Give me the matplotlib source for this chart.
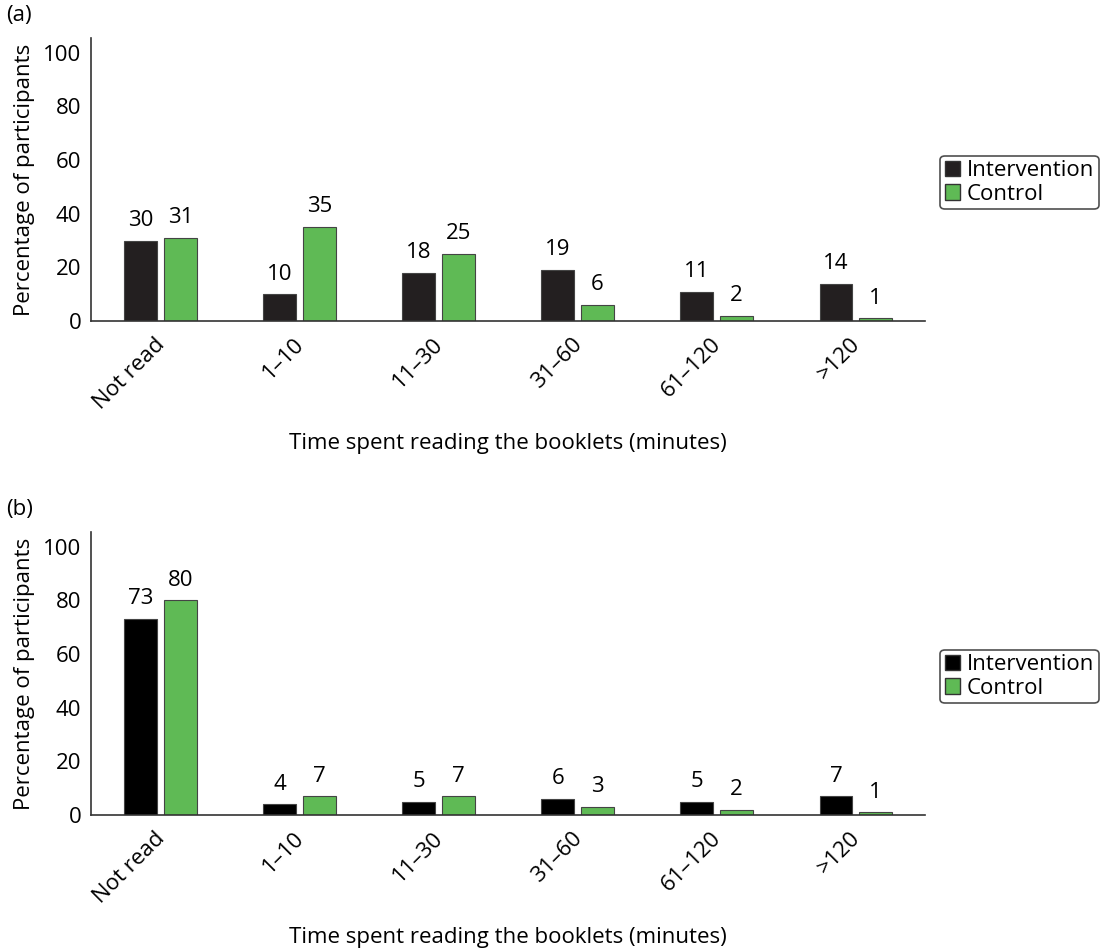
import numpy as np
from matplotlib import pyplot as plt
from matplotlib.patches import Patch
from matplotlib.transforms import ScaledTranslation

plt.rcParams['font.family'] = ['Open Sans', 'DejaVu Sans']

categories = ['Not read', '1\u201310', '11\u201330', '31\u201360', '61\u2013120', '>120']
a_intervention = [30, 10, 18, 19, 11, 14]
a_control = [31, 35, 25, 6, 2, 1]
b_intervention = [73, 4, 5, 6, 5, 7]
b_control = [80, 7, 7, 3, 2, 1]

green = '#5fba55'
fs = 16

fig = plt.figure(figsize=(11.02, 9.5), dpi=100)


def panel(rect, interv, ctrl, dark, tag, leg_y):
    ax = fig.add_axes(rect)
    x = np.arange(len(categories))
    w = 0.237
    b1 = ax.bar(x - 0.142, interv, w, color=dark, edgecolor='#444444', linewidth=0.8)
    b2 = ax.bar(x + 0.142, ctrl, w, color=green, edgecolor='#444444', linewidth=0.8)
    for bars, vals in ((b1, interv), (b2, ctrl)):
        for r, v in zip(bars, vals):
            ax.annotate(str(v), (r.get_x() + r.get_width() / 2, r.get_height()),
                        xytext=(0, 7), textcoords='offset points',
                        ha='center', va='bottom', fontsize=fs)
    ax.set_xlim(-0.5, 5.5)
    ax.set_ylim(0, 105.5)
    ax.set_yticks([0, 20, 40, 60, 80, 100])
    ax.set_xticks(x)
    ax.set_xticklabels(categories, rotation=45, ha='right', rotation_mode='anchor')
    ax.tick_params(length=0, labelsize=fs, pad=7)
    ax.tick_params(axis='x', pad=9)
    shift = ScaledTranslation(-6 / 100, 0, fig.dpi_scale_trans)
    for lab in ax.get_xticklabels():
        lab.set_transform(lab.get_transform() + shift)
    for s in ('top', 'right'):
        ax.spines[s].set_visible(False)
    for s in ('left', 'bottom'):
        ax.spines[s].set_color('#333333')
        ax.spines[s].set_linewidth(1.2)
    ax.set_ylabel('Percentage of participants', fontsize=fs, labelpad=6)
    ax.set_xlabel('Time spent reading the booklets (minutes)', fontsize=fs, labelpad=14)
    fig.text(0.006, rect[1] + rect[3] + 0.013, tag, fontsize=fs, ha='left', va='bottom')
    handles = [Patch(facecolor=dark, edgecolor='#333333', label='Intervention'),
               Patch(facecolor=green, edgecolor='#333333', label='Control')]
    leg = fig.legend(handles=handles, loc='center right', bbox_to_anchor=(0.999, leg_y),
                     fontsize=fs, frameon=True, fancybox=True, edgecolor='#222222',
                     handlelength=0.7, handleheight=0.7, handletextpad=0.3,
                     labelspacing=0.1, borderpad=0.2, borderaxespad=0.1)
    leg.get_frame().set_linewidth(1.2)
    return ax


panel([0.0826, 0.662, 0.757, 0.298], a_intervention, a_control, '#231f20', '(a)', 0.808)
panel([0.0826, 0.142, 0.757, 0.298], b_intervention, b_control, '#000000', '(b)', 0.288)

fig.savefig('out.png', dpi=100)
